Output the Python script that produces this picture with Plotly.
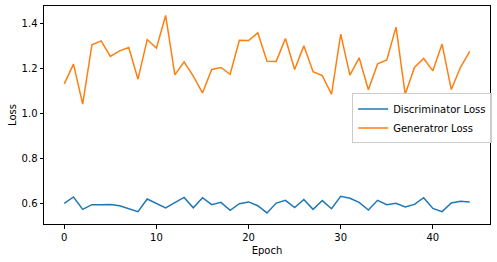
import plotly.graph_objects as go

epochs = list(range(45))
disc_loss = [0.603, 0.631, 0.576, 0.597, 0.597, 0.598, 0.592, 0.580, 0.566, 0.622,
             0.601, 0.582, 0.606, 0.629, 0.583, 0.628, 0.597, 0.607, 0.572, 0.601,
             0.609, 0.592, 0.560, 0.604, 0.616, 0.584, 0.620, 0.576, 0.615, 0.579,
             0.634, 0.625, 0.607, 0.573, 0.616, 0.597, 0.603, 0.587, 0.598, 0.628,
             0.580, 0.566, 0.604, 0.612, 0.609]
gen_loss = [1.133, 1.221, 1.043, 1.307, 1.324, 1.255, 1.280, 1.295, 1.154, 1.330,
            1.292, 1.437, 1.173, 1.231, 1.168, 1.093, 1.197, 1.206, 1.176, 1.327,
            1.326, 1.360, 1.234, 1.233, 1.335, 1.197, 1.302, 1.187, 1.170, 1.087,
            1.354, 1.172, 1.249, 1.107, 1.222, 1.239, 1.385, 1.087, 1.206, 1.246,
            1.191, 1.310, 1.108, 1.207, 1.277]
x_ticks = [0, 10, 20, 30, 40]
y_ticks = [0.6, 0.8, 1.0, 1.2, 1.4]

fig = go.Figure()
fig.add_trace(go.Scatter(x=epochs, y=disc_loss, mode="lines", name="Discriminator Loss",
                         line=dict(color="#1f77b4", width=1.5)))
fig.add_trace(go.Scatter(x=epochs, y=gen_loss, mode="lines", name="Generatror Loss",
                         line=dict(color="#ff7f0e", width=1.5)))

axis_common = dict(showgrid=False, zeroline=False, showline=True, linecolor="black",
                   linewidth=1, mirror=True, ticks="outside", ticklen=3.5,
                   tickwidth=1, tickcolor="black",
                   tickfont=dict(family="DejaVu Sans", size=10, color="black"))

fig.update_layout(
    width=497, height=262,
    margin=dict(l=44, r=6, t=6, b=38),
    plot_bgcolor="white", paper_bgcolor="white",
    font=dict(family="DejaVu Sans", size=10, color="black"),
    xaxis=dict(range=[-2.2, 46.2], tickvals=x_ticks, ticktext=[str(v) for v in x_ticks],
               title=dict(text="Epoch", font=dict(size=10), standoff=5), **axis_common),
    yaxis=dict(range=[0.511, 1.479], tickvals=y_ticks, ticktext=[f"{v:.1f}" for v in y_ticks],
               title=dict(text="Loss", font=dict(size=10), standoff=3), **axis_common),
    legend=dict(x=0.846, y=0.599, xanchor="center", yanchor="top",
                bgcolor="rgba(255,255,255,0.8)", bordercolor="#cccccc", borderwidth=1,
                font=dict(family="DejaVu Sans", size=10, color="black"),
                itemwidth=30, tracegroupgap=0),
    showlegend=True,
)

fig.write_html("out.html")
